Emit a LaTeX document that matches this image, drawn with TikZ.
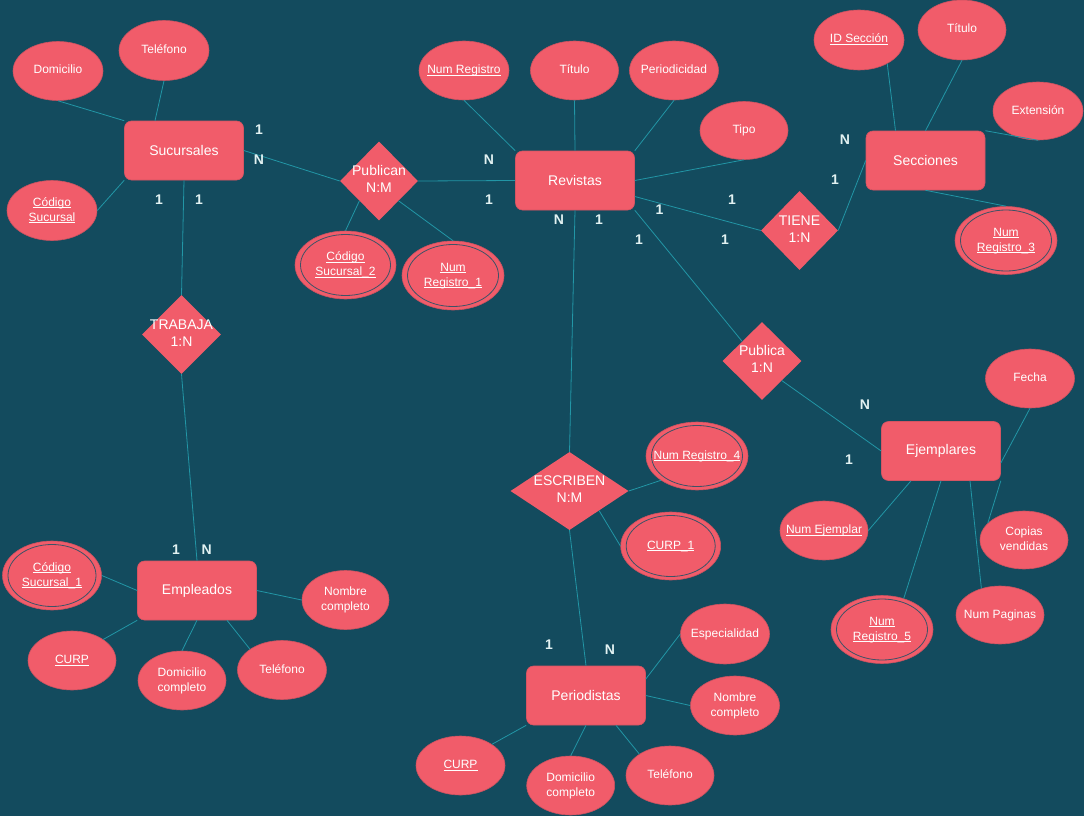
\documentclass[tikz,border=0pt]{standalone}
\usepackage{fontspec}
\setmainfont{Liberation Sans}
\usetikzlibrary{shapes.geometric,calc}
\definecolor{bgc}{RGB}{19,75,94}
\definecolor{salm}{RGB}{241,92,106}
\definecolor{linec}{RGB}{34,150,166}
\definecolor{innerc}{RGB}{62,82,102}
\definecolor{cardc}{RGB}{226,242,242}
\definecolor{entb}{RGB}{214,84,98}
\definecolor{attb}{RGB}{200,82,96}
\newcommand\ztext[1]{\makebox[0pt]{\begin{tabular}{@{}c@{}}#1\end{tabular}}}
\newcommand\ulx[1]{\leavevmode\setbox0\hbox{#1}\rlap{\rule[-2.1pt]{\wd0}{0.8pt}}\box0}
\begin{document}
\begin{tikzpicture}[x=1pt,y=-1pt,
  conn/.style={draw=linec,line width=0.8pt},
  ent/.style={rectangle,rounded corners=7pt,fill=salm,draw=entb,line width=0.6pt,
    minimum width=119pt,minimum height=59pt,inner sep=0pt,text=white,
    font=\fontsize{14}{17}\selectfont},
  rel/.style 2 args={diamond,fill=salm,minimum width=#1pt,minimum height=#2pt,
    inner sep=0pt,text=white,font=\fontsize{14}{17}\selectfont},
  attr/.style 2 args={ellipse,fill=salm,draw=attb,line width=0.6pt,
    minimum width=2*#1pt,minimum height=2*#2pt,inner sep=0pt,text=white,
    font=\fontsize{12}{15}\selectfont},
  dbl/.style 2 args={attr={#1}{#2},path picture={\draw[innerc,line width=0.8pt]
    (path picture bounding box.center) ellipse [x radius=#1pt-5.5pt,y radius=#2pt-3.5pt];}},
  card/.style={text=cardc,font=\bfseries\fontsize{14}{17}\selectfont,inner sep=0pt}
]
\fill[bgc] (0,0) rectangle (1084,816);
\useasboundingbox (0,0) rectangle (1084,816);

% entities
\node[ent] (suc) at (184,150.5) {Sucursales};
\node[ent] (rev) at (575,180.5) {Revistas};
\node[ent] (sec) at (925.5,160.5) {Secciones};
\node[ent] (ejem) at (941,451) {Ejemplares};
\node[ent] (perio) at (586,695.5) {Periodistas};
\node[ent] (emp) at (197,590.5) {Empleados};

% relationships
\node[rel={78}{79}] (pub) at (379,181) {\ztext{Publican\\N:M}};
\node[rel={77}{79}] (tiene) at (799.5,230.5) {\ztext{TIENE\\1:N}};
\node[rel={79}{78}] (publica) at (762,361) {\ztext{Publica\\1:N}};
\node[rel={118}{78}] (esc) at (569.5,491) {\ztext{ESCRIBEN\\N:M}};
\node[rel={79}{79}] (trab) at (181.5,334.5) {\ztext{TRABAJA\\1:N}};

% attributes
\node[attr={45}{29.5}] (dom) at (58,71) {\ztext{Domicilio}};
\node[attr={45}{30}] (tel1) at (164,50.5) {\ztext{Teléfono}};
\node[attr={45}{30}] (cs) at (52,210.5) {\ztext{\ulx{Código}\\\ulx{Sucursal}}};
\node[dbl={50.5}{34}] (cs2) at (345.5,265) {\ztext{\ulx{Código}\\\ulx{Sucursal\_2}}};
\node[dbl={51}{34.5}] (nr1) at (453,275.5) {\ztext{\ulx{Num}\\\ulx{Registro\_1}}};
\node[attr={45}{29.5}] (nrg) at (464,70.5) {\ztext{\ulx{Num Registro}}};
\node[attr={44}{29.5}] (tit1) at (574.5,70.5) {\ztext{Título}};
\node[attr={44.5}{29.5}] (per) at (674,70.5) {\ztext{Periodicidad}};
\node[attr={44}{29}] (tipo) at (744,130.5) {\ztext{Tipo}};
\node[attr={45}{30}] (ids) at (859,40) {\ztext{\ulx{ID Sección}}};
\node[attr={44}{30}] (tit2) at (962,30) {\ztext{Título}};
\node[attr={45}{29}] (ext) at (1038,111) {\ztext{Extensión}};
\node[dbl={51}{34}] (nr3) at (1006,240.5) {\ztext{\ulx{Num}\\\ulx{Registro\_3}}};
\node[attr={44.5}{29.5}] (fecha) at (1030,378.5) {\ztext{Fecha}};
\node[attr={44}{29}] (copias) at (1024,540) {\ztext{Copias\\vendidas}};
\node[attr={44}{29}] (npag) at (1000,615) {\ztext{Num Paginas}};
\node[dbl={51}{34}] (nr5) at (882,629.5) {\ztext{\ulx{Num}\\\ulx{Registro\_5}}};
\node[attr={44}{29.5}] (nej) at (824,530.5) {\ztext{\ulx{Num Ejemplar}}};
\node[dbl={51}{34}] (nr4) at (697,456) {\ztext{\ulx{Num Registro\_4}}};
\node[dbl={50}{34}] (curp1) at (670.7,546) {\ztext{\ulx{CURP\_1}}};
\node[attr={44.5}{30}] (esp) at (725,634) {\ztext{Especialidad}};
\node[attr={44.5}{29.5}] (ncp) at (735,705.5) {\ztext{Nombre\\completo}};
\node[attr={44}{29.5}] (telp) at (670,775.5) {\ztext{Teléfono}};
\node[attr={44}{29.5}] (domp) at (570.7,785.5) {\ztext{Domicilio\\completo}};
\node[attr={44.5}{29.5}] (curpp) at (460.5,765.5) {\ztext{\ulx{CURP}}};
\node[dbl={49.5}{34.5}] (cs1) at (52,575.5) {\ztext{\ulx{Código}\\\ulx{Sucursal\_1}}};
\node[attr={44}{29.5}] (curpe) at (72,660.5) {\ztext{\ulx{CURP}}};
\node[attr={44}{29.5}] (dome) at (182,680.5) {\ztext{Domicilio\\completo}};
\node[attr={44.5}{29.5}] (tele) at (282,670) {\ztext{Teléfono}};
\node[attr={43.5}{29.5}] (ncpe) at (345.5,600) {\ztext{Nombre\\completo}};

% connectors
\draw[conn] (dom.south) -- (suc.north west);
\draw[conn] (tel1.south) -- ([xshift=-29pt]suc.north);
\draw[conn] (cs.east) -- (suc.south west);
\draw[conn] (suc.east) -- (pub.west);
\draw[conn] (pub.east) -- (rev.west);
\draw[conn] (pub.south west) -- (cs2.north);
\draw[conn] (pub.south east) -- (nr1.north);
\draw[conn] (suc.south) -- (trab.north);
\draw[conn] (trab.south) -- (emp.north);

\draw[conn] (nrg.south) -- (rev.north west);
\draw[conn] (tit1.south) -- (rev.north);
\draw[conn] (per.south) -- (rev.north east);
\draw[conn] (tipo.south) -- (rev.east);
\draw[conn] ([yshift=-16pt]rev.east) -- (tiene.west);
\draw[conn] (tiene.east) -- (sec.west);
\draw[conn] (rev.south east) -- (publica.north west);
\draw[conn] (rev.south) -- (esc.north);

\draw[conn] (ids.-40) -- ([xshift=-30pt]sec.north);
\draw[conn] (tit2.south) -- (sec.north);
\draw[conn] (ext.south) -- (sec.north east);
\draw[conn] (sec.south) -- (nr3.north);

\draw[conn] (publica.south east) -- (ejem.west);
\draw[conn] (fecha.south) -- ([yshift=-12pt]ejem.east);
\draw[conn] (copias.155) -- (ejem.south east);
\draw[conn] (npag.125) -- ([xshift=29pt]ejem.south);
\draw[conn] (nr5.55) -- (ejem.south);
\draw[conn] (nej.east) -- ([xshift=-30pt]ejem.south);

\draw[conn] (esc.east) -- (nr4.214);
\draw[conn] (esc.south east) -- (curp1.west);
\draw[conn] (esc.south) -- (perio.north);

\draw[conn] (esp.west) -- ([yshift=16.5pt]perio.east);
\draw[conn] (ncp.west) -- (perio.east);
\draw[conn] (telp.145) -- ([xshift=30pt]perio.south);
\draw[conn] (domp.north) -- (perio.south);
\draw[conn] (curpp.34) -- (perio.south west);

\draw[conn] (cs1.east) -- (emp.west);
\draw[conn] (ncpe.west) -- (emp.east);
\draw[conn] (curpe.34) -- (emp.south west);
\draw[conn] (dome.north) -- (emp.south);
\draw[conn] (tele.147) -- ([xshift=30pt]emp.south);

% cardinalities
\node[card] (k1) at (259,130) {1};
\node[card] (k2) at (259,160) {N};
\node[card] (k3) at (159,200) {1};
\node[card] (k4) at (199,200) {1};
\node[card] (k5) at (489,160) {N};
\node[card] (k6) at (489,200) {1};
\node[card] (k7) at (559,220) {N};
\node[card] (k8) at (599,220) {1};
\node[card] (k9) at (659.5,210) {1};
\node[card] (k10) at (732,200) {1};
\node[card] (k11) at (639,240) {1};
\node[card] (k12) at (725,240) {1};
\node[card] (k13) at (845,140) {N};
\node[card] (k14) at (835,180) {1};
\node[card] (k15) at (865,405) {N};
\node[card] (k16) at (849,460) {1};
\node[card] (k17) at (549,645) {1};
\node[card] (k18) at (610,650) {N};
\node[card] (k19) at (176,550) {1};
\node[card] (k20) at (206.6,550) {N};
\end{tikzpicture}
\end{document}
